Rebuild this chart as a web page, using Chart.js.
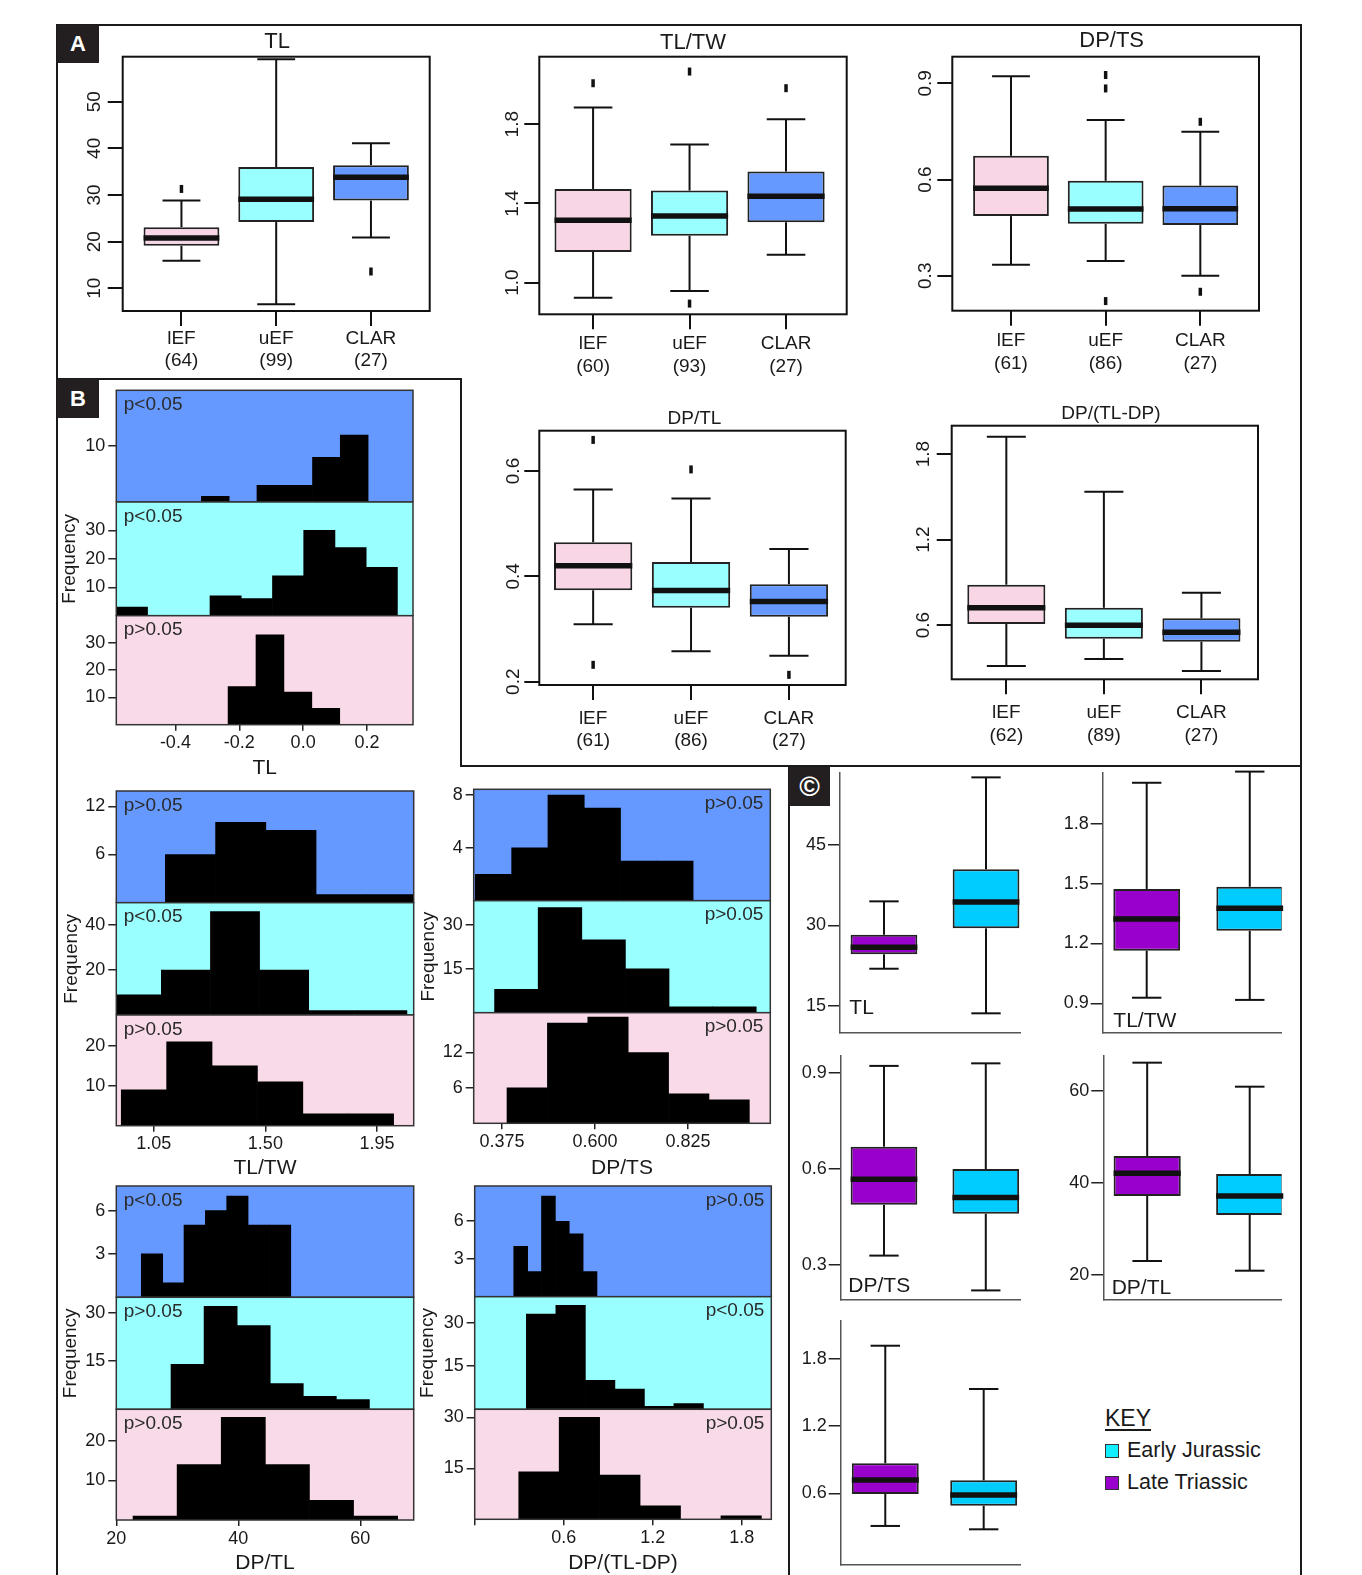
<!DOCTYPE html>
<html>
<head>
<meta charset="utf-8">
<title>Tooth shape boxplots and histograms</title>
<script src="https://cdn.jsdelivr.net/npm/chart.js@4.4.1/dist/chart.umd.min.js"></script>
<style>
  html, body { margin: 0; padding: 0; background: #fff; }
  body { position: relative; width: 1362px; height: 1575px; overflow: hidden;
         font-family: "Liberation Sans", Arial, sans-serif; color: #1a1a1a; }
  canvas { position: absolute; }
  .rule { position: absolute; background: #1a1a1a; }
  .tag { position: absolute; background: #231f20; color: #fff; font-weight: bold;
         font-size: 22px; text-align: center; }
  #key { position: absolute; left: 1105px; top: 1402px; font-size: 21.5px; line-height: 32px; }
  #key .head { font-size: 23px; text-decoration: underline; text-underline-offset: 3px; }
  #key .sw { display: inline-block; width: 12px; height: 12px; border: 1.5px solid #333;
             margin-right: 8px; vertical-align: -1px; }
</style>
</head>
<body>
<div class="rule" style="left:57px;top:24px;width:1245px;height:2px"></div>
<div class="rule" style="left:56px;top:24px;width:2px;height:1551px"></div>
<div class="rule" style="left:1300px;top:24px;width:2px;height:1551px"></div>
<div class="rule" style="left:57px;top:378px;width:405px;height:2px"></div>
<div class="rule" style="left:460px;top:378px;width:2px;height:389px"></div>
<div class="rule" style="left:460px;top:765px;width:842px;height:2px"></div>
<div class="rule" style="left:788px;top:765px;width:2px;height:810px"></div>
<div class="tag" style="left:57px;top:25px;width:42px;height:38px;line-height:38px">A</div>
<div class="tag" style="left:57px;top:379px;width:42px;height:39px;line-height:39px">B</div>
<div class="tag" style="left:789px;top:767px;width:41px;height:39px;line-height:39px;font-size:28px">©</div>
<div id="key"></div>
<script>
// ---------- A: boxplots by formation ----------
const groupsA = ['lEF', 'uEF', 'CLAR'];
const fillsA = ['#F9D6E6', '#99FFFF', '#6699FF'];

const tlN = [64, 99, 27];
const tlQ1 = [19.1, 24.2, 28.8];
const tlMed = [20.8, 29.1, 33.8];
const tlQ3 = [23.1, 36.0, 36.4];
const tlLo = [15.9, 6.6, 20.9];
const tlHi = [28.8, 59.1, 41.1];
const tlOut = [[31.3], [], [13.6]];
const tlTicks = [10, 20, 30, 40, 50];

const twN = [60, 93, 27];
const twQ1 = [1.155, 1.237, 1.305];
const twMed = [1.315, 1.337, 1.436];
const twQ3 = [1.473, 1.465, 1.561];
const twLo = [0.924, 0.958, 1.141];
const twHi = [1.884, 1.697, 1.825];
const twOut = [[2.007], [2.066, 0.894], [1.982]];
const twTicks = [1.0, 1.4, 1.8];
const twTickLabels = ['1.0', '1.4', '1.8'];

const tsN = [61, 86, 27];
const tsQ1 = [0.486, 0.462, 0.458];
const tsMed = [0.573, 0.508, 0.509];
const tsQ3 = [0.674, 0.596, 0.581];
const tsLo = [0.334, 0.346, 0.300];
const tsHi = [0.922, 0.786, 0.749];
const tsOut = [[], [0.926, 0.884, 0.221], [0.780, 0.250]];
const tsTicks = [0.3, 0.6, 0.9];

const dtN = [61, 86, 27];
const dtQ1 = [0.3735, 0.3405, 0.3234];
const dtMed = [0.420, 0.373, 0.352];
const dtQ3 = [0.4647, 0.427, 0.385];
const dtLo = [0.309, 0.258, 0.249];
const dtHi = [0.565, 0.548, 0.452];
const dtOut = [[0.659, 0.232], [0.603], [0.213]];
const dtTicks = [0.2, 0.4, 0.6];

const ddN = [62, 89, 27];
const ddQ1 = [0.607, 0.504, 0.483];
const ddMed = [0.721, 0.598, 0.549];
const ddQ3 = [0.883, 0.721, 0.647];
const ddLo = [0.312, 0.361, 0.277];
const ddHi = [1.921, 1.535, 0.827];
const ddOut = [[], [], []];
const ddTicks = [0.6, 1.2, 1.8];

// ---------- B: histograms (top to bottom: CLAR, uEF, lEF) ----------
const histFills = ['#6699FF', '#99FFFF', '#F9DAE8'];

const tlHistStart = [-0.3186, -0.585, -0.235];
const tlHistWidth = [0.087, 0.0978, 0.0874];
const tlHistClar = [1, 0, 3, 3, 8, 12];
const tlHistUef = [3, 0, 0, 7, 6, 14, 30, 24, 17];
const tlHistLef = [14, 33, 12, 6];
const tlHistP = ['p<0.05', 'p<0.05', 'p>0.05'];
const tlHistYMax = [20, 40, 40];
const tlHistYTicks = [[10], [10, 20, 30], [10, 20, 30]];
const tlHistXTicks = [-0.4, -0.2, 0.0, 0.2];
const tlHistXLabels = ['-0.4', '-0.2', '0.0', '0.2'];

const twHistStart = [1.0968, 0.8826, 0.919];
const twHistWidth = [0.2025, 0.198, 0.183];
const twHistClar = [6, 10, 9, 1, 1];
const twHistUef = [9, 20, 46, 20, 2, 2];
const twHistLef = [9, 21, 15, 11, 3, 3];
const twHistP = ['p>0.05', 'p<0.05', 'p>0.05'];
const twHistYMax = [13.9, 49.9, 27.7];
const twHistYTicks = [[6, 12], [20, 40], [10, 20]];
const twHistXTicks = [1.05, 1.5, 1.95];
const twHistXLabels = ['1.05', '1.50', '1.95'];

const tsHistStart = [0.3105, 0.357, 0.3871];
const tsHistWidth = [0.0878, 0.1055, 0.0977];
const tsHistClar = [2, 4, 8, 7, 3, 3];
const tsHistUef = [8, 36, 25, 15, 2, 2];
const tsHistLef = [6, 17, 18, 12, 5, 4];
const tsHistP = ['p>0.05', 'p>0.05', 'p>0.05'];
const tsHistYMax = [8.43, 38.4, 18.75];
const tsHistYTicks = [[4, 8], [15, 30], [6, 12]];
const tsHistXTicks = [0.375, 0.6, 0.825];
const tsHistXLabels = ['0.375', '0.600', '0.825'];

const dtHistStart = [24.1, 28.97, 22.74];
const dtHistWidth = [3.5, 5.42, 7.23];
const dtHistClar = [3, 1, 5, 6, 7, 5, 5];
const dtHistUef = [14, 32, 26, 8, 4, 3];
const dtHistLef = [1, 14, 26, 14, 5, 1];
const dtHistP = ['p<0.05', 'p>0.05', 'p>0.05'];
const dtHistYMax = [7.7, 34.8, 28];
const dtHistYTicks = [[3, 6], [15, 30], [10, 20]];
const dtHistXTicks = [20, 40, 60];
const dtHistXLabels = ['20', '40', '60'];

const ddHistStart = [0.2635, 0.3483, 0.297];
const ddHistWidth = [0.0935, 0.199, 0.2727];
const ddHistClar = [4, 2, 8, 6, 5, 2];
const ddHistUef = [33, 36, 10, 7, 1, 2];
const ddHistLef = [14, 30, 13, 4, 0, 1];
const ddHistP = ['p>0.05', 'p<0.05', 'p>0.05'];
const ddHistYMax = [8.8, 39, 32.4];
const ddHistYTicks = [[3, 6], [15, 30], [15, 30]];
const ddHistXTicks = [0, 0.6, 1.2, 1.8];
const ddHistXLabels = ['', '0.6', '1.2', '1.8'];

// ---------- C: Late Triassic vs Early Jurassic ----------
const groupsC = ['Late Triassic', 'Early Jurassic'];
const fillsC = ['#9900CC', '#00CCFF'];
const keySwatch = ['#9900CC', '#11EEFF'];

const cTlQ1 = [24.63, 29.48];
const cTlMed = [25.94, 34.38];
const cTlQ3 = [28.28, 40.47];
const cTlLo = [21.95, 13.64];
const cTlHi = [34.5, 57.6];
const cTlTicks = [15, 30, 45];

const cTwQ1 = [1.164, 1.264];
const cTwMed = [1.323, 1.377];
const cTwQ3 = [1.474, 1.485];
const cTwLo = [0.928, 0.917];
const cTwHi = [2.007, 2.063];
const cTwTicks = [0.9, 1.2, 1.5, 1.8];

const cTsQ1 = [0.488, 0.460];
const cTsMed = [0.568, 0.511];
const cTsQ3 = [0.670, 0.600];
const cTsLo = [0.329, 0.220];
const cTsHi = [0.923, 0.931];
const cTsTicks = [0.3, 0.6, 0.9];

const cDtQ1 = [37.17, 33.04];
const cDtMed = [42.1, 37.17];
const cDtQ3 = [45.87, 41.96];
const cDtLo = [23.04, 20.93];
const cDtHi = [66.15, 60.93];
const cDtTicks = [20, 40, 60];

const cDdQ1 = [0.594, 0.489];
const cDdMed = [0.719, 0.585];
const cDdQ3 = [0.868, 0.716];
const cDdLo = [0.308, 0.278];
const cDdHi = [1.919, 1.532];
const cDdTicks = [0.6, 1.2, 1.8];

// ---------- helpers ----------
const INK = '#1a1a1a';
const FONT = '"Liberation Sans", Arial, sans-serif';
Chart.defaults.font.family = FONT;
Chart.defaults.color = INK;

function makeCanvas(box, m) {
  const left = Math.floor(box.l - m.l), top = Math.floor(box.t - m.t);
  const right = Math.ceil(box.r + m.r), bottom = Math.ceil(box.b + m.b);
  const canvas = document.createElement('canvas');
  canvas.width = right - left;
  canvas.height = bottom - top;
  canvas.style.left = left + 'px';
  canvas.style.top = top + 'px';
  document.body.appendChild(canvas);
  return { canvas, ml: box.l - left, mt: box.t - top, mr: right - box.r, mb: bottom - box.b };
}

const axisTicks = values => s => { s.ticks = values.map(v => ({ value: v })); };
const fixWidth = w => s => { s.width = w; s.paddingTop = 0; s.paddingBottom = 0; };
const fixHeight = h => s => { s.height = h; s.paddingLeft = 0; s.paddingRight = 0; };
const fmt = v => String(v);

function drawWhiskers(chart, s) {
  const ctx = chart.ctx, ys = chart.scales.y;
  const seg = (x1, y1, x2, y2) => { ctx.beginPath(); ctx.moveTo(x1, y1); ctx.lineTo(x2, y2); ctx.stroke(); };
  ctx.strokeStyle = '#111';
  ctx.lineCap = 'butt';
  chart.getDatasetMeta(0).data.forEach((bar, i) => {
    const x = bar.x, w = bar.width, cap = w * s.cap / 2;
    const pQ1 = ys.getPixelForValue(s.q1[i]), pQ3 = ys.getPixelForValue(s.q3[i]);
    const pLo = ys.getPixelForValue(s.lo[i]), pHi = ys.getPixelForValue(s.hi[i]);
    ctx.lineWidth = 2;
    seg(x, pQ3, x, pHi);
    seg(x - cap, pHi, x + cap, pHi);
    seg(x, pQ1, x, pLo);
    seg(x - cap, pLo, x + cap, pLo);
    const pMed = ys.getPixelForValue(s.med[i]);
    ctx.lineWidth = 5.5;
    seg(x - w / 2, pMed, x + w / 2, pMed);
    ctx.lineWidth = 3.5;
    (s.out ? s.out[i] : []).forEach(v => {
      const p = ys.getPixelForValue(v);
      seg(x, p - 4, x, p + 4);
    });
  });
}

function decor(spec) {
  return {
    id: 'decor',
    beforeDatasetsDraw(chart) {
      if (!spec.fill) return;
      const a = chart.chartArea, ctx = chart.ctx;
      ctx.save();
      ctx.fillStyle = spec.fill;
      ctx.fillRect(a.left, a.top, a.width, a.height);
      ctx.restore();
    },
    afterDatasetsDraw(chart) {
      const a = chart.chartArea, ctx = chart.ctx;
      ctx.save();
      if (spec.stats) drawWhiskers(chart, spec.stats);
      if (spec.frame) {
        ctx.strokeStyle = spec.frame.color;
        ctx.lineWidth = spec.frame.width;
        ctx.strokeRect(a.left, a.top, a.width, a.height);
      }
      ctx.restore();
    },
    afterDraw(chart) {
      const a = chart.chartArea, ctx = chart.ctx;
      (spec.notes || []).forEach(n => {
        ctx.save();
        ctx.font = n.font;
        ctx.fillStyle = n.color || INK;
        ctx.textAlign = n.align || 'center';
        ctx.textBaseline = 'middle';
        const x = a.left + (n.fx || 0) * a.width + (n.dx || 0);
        const y = (n.fromBottom ? a.bottom : a.top) + (n.dy || 0);
        ctx.fillText(n.text, x, y);
        ctx.restore();
      });
    }
  };
}

const baseOptions = c => ({
  responsive: false,
  animation: false,
  events: [],
  layout: { autoPadding: false, padding: { left: 0, top: c.mt, right: c.mr, bottom: 0 } },
  plugins: { legend: { display: false }, tooltip: { enabled: false } }
});

// panel A box plot: framed, rotated y labels, group names with n below
function boxPanelA(o) {
  const c = makeCanvas(o.box, { l: 45, t: 42, r: 8, b: 72 });
  const labels = groupsA.map((g, i) => [g, '(' + o.n[i] + ')']);
  const slots = groupsA.map((g, i) => i + 1);
  const yLabels = o.yLabels || o.yTicks.map(fmt);
  const opts = baseOptions(c);
  opts.scales = {
    x: {
      type: 'linear', min: o.xMin, max: o.xMax, offset: false,
      afterBuildTicks: axisTicks(slots), afterFit: fixHeight(c.mb),
      grid: { drawOnChartArea: false, tickLength: 15, color: '#111', lineWidth: 2, offset: false },
      border: { display: false },
      ticks: { autoSkip: false, maxRotation: 0, padding: o.xPad, font: { size: 19 },
               callback: (v, i) => labels[i] }
    },
    y: {
      type: 'linear', min: o.yMin, max: o.yMax, beginAtZero: false,
      afterBuildTicks: axisTicks(o.yTicks), afterFit: fixWidth(c.ml),
      grid: { drawOnChartArea: false, tickLength: 15, color: '#111', lineWidth: 2 },
      border: { display: false },
      ticks: { autoSkip: false, minRotation: 90, maxRotation: 90, crossAlign: 'center',
               padding: o.yPad, font: { size: 19 }, callback: (v, i) => yLabels[i] }
    }
  };
  return new Chart(c.canvas, {
    type: 'bar',
    data: { datasets: [{
      data: slots.map((x, i) => ({ x, y: [o.q1[i], o.q3[i]] })),
      backgroundColor: fillsA, borderColor: '#222', borderWidth: 2, borderSkipped: false,
      barPercentage: 0.8, categoryPercentage: 1
    }] },
    options: opts,
    plugins: [decor({
      stats: { q1: o.q1, q3: o.q3, med: o.med, lo: o.lo, hi: o.hi, out: o.out, cap: 0.5 },
      frame: { color: '#111', width: 2 },
      notes: [{ text: o.title, fx: 0.5, dx: o.titleDx || 0, dy: o.titleDy, font: o.titleSize + 'px ' + FONT }]
    })]
  });
}

// panel C box plot: open L axes, two periods
function boxPanelC(o) {
  const c = makeCanvas(o.box, { l: 52, t: 12, r: 10, b: 2 });
  const slots = groupsC.map((g, i) => i + 1);
  const yLabels = o.yLabels || o.yTicks.map(fmt);
  const opts = baseOptions(c);
  opts.scales = {
    x: {
      type: 'linear', min: o.xMin, max: o.xMax, offset: false,
      afterBuildTicks: axisTicks(slots), afterFit: fixHeight(c.mb),
      grid: { display: false, offset: false },
      border: { display: true, color: '#555', width: 1.5 },
      ticks: { display: false }
    },
    y: {
      type: 'linear', min: o.yMin, max: o.yMax, beginAtZero: false,
      afterBuildTicks: axisTicks(o.yTicks), afterFit: fixWidth(c.ml),
      grid: { drawOnChartArea: false, tickLength: 12, color: '#222', lineWidth: 1.5 },
      border: { display: true, color: '#555', width: 1.5 },
      ticks: { autoSkip: false, padding: 2, font: { size: 18 }, callback: (v, i) => yLabels[i] }
    }
  };
  const notes = o.label ? [{ text: o.label, fx: 0, dx: o.labelDx, dy: o.labelDy, fromBottom: true,
                             align: 'left', font: '21px ' + FONT }] : [];
  return new Chart(c.canvas, {
    type: 'bar',
    data: { datasets: [{
      data: slots.map((x, i) => ({ x, y: [o.q1[i], o.q3[i]] })),
      backgroundColor: fillsC, borderColor: '#222', borderWidth: 2, borderSkipped: false,
      barPercentage: o.barPct, categoryPercentage: 1
    }] },
    options: opts,
    plugins: [decor({ stats: { q1: o.q1, q3: o.q3, med: o.med, lo: o.lo, hi: o.hi, cap: 0.44 }, notes })]
  });
}

// panel B histogram strip
function histPanel(o) {
  const showX = !!o.xTitle;
  const c = makeCanvas(o.box, { l: o.ml, t: 12, r: 6, b: showX ? o.mb : 0 });
  const opts = baseOptions(c);
  opts.layout.padding.bottom = showX ? 0 : c.mb;
  opts.scales = {
    x: {
      type: 'linear', display: showX, min: o.xMin, max: o.xMax, offset: false,
      afterBuildTicks: axisTicks(o.xTicks), afterFit: fixHeight(showX ? c.mb : 0),
      grid: { drawOnChartArea: false, tickLength: 6, color: '#222', lineWidth: 1.5, offset: false },
      border: { display: false },
      ticks: { autoSkip: false, maxRotation: 0, padding: 2, font: { size: 18 },
               callback: (v, i) => o.xLabels[i] },
      title: { display: showX, text: o.xTitle || '', font: { size: 21 }, padding: 0 }
    },
    y: {
      type: 'linear', min: 0, max: o.yMax,
      afterBuildTicks: axisTicks(o.yTicks), afterFit: fixWidth(c.ml),
      grid: { drawOnChartArea: false, tickLength: 8, color: '#222', lineWidth: 1.5 },
      border: { display: false },
      ticks: { autoSkip: false, padding: 3, font: { size: 18 }, callback: (v, i) => fmt(o.yTicks[i]) },
      title: { display: !!o.yTitle, text: o.yTitle || '', font: { size: 19 }, padding: 0 }
    }
  };
  const right = o.align === 'right';
  return new Chart(c.canvas, {
    type: 'bar',
    data: { datasets: [{
      data: o.counts.map((n, i) => ({ x: o.start + (i + 0.5) * o.width, y: n })),
      backgroundColor: '#000', borderWidth: 0, barPercentage: 1, categoryPercentage: 1
    }] },
    options: opts,
    plugins: [decor({
      fill: o.fill,
      frame: { color: '#333', width: 1.5 },
      notes: [{ text: o.note, fx: right ? 1 : 0, dx: right ? -7 : 7.5, dy: 14.5,
                align: right ? 'right' : 'left', color: '#2a2a2a', font: '19px ' + FONT }]
    })]
  });
}

function histColumn(o) {
  for (let k = 0; k < 3; k++) {
    histPanel({
      box: { l: o.l, t: o.edges[k], r: o.r, b: o.edges[k + 1] },
      ml: o.ml, mb: o.mb,
      start: o.starts[k], width: o.widths[k], counts: o.counts[k],
      xMin: o.xMin, xMax: o.xMax, xTicks: o.xTicks, xLabels: o.xLabels,
      xTitle: k === 2 ? o.xTitle : null, yTitle: k === 1 ? 'Frequency' : null,
      yMax: o.yMax[k], yTicks: o.yTicks[k], fill: histFills[k], note: o.notes[k], align: o.align
    });
  }
}

// ---------- build panel A ----------
boxPanelA({ box: { l: 122.7, t: 56.7, r: 429.7, b: 311 }, n: tlN, xMin: 0.38, xMax: 3.62,
  q1: tlQ1, med: tlMed, q3: tlQ3, lo: tlLo, hi: tlHi, out: tlOut,
  yMin: 5.13, yMax: 59.65, yTicks: tlTicks, yPad: 2.6, xPad: 1,
  title: 'TL', titleSize: 22, titleDx: 1, titleDy: -14.7 });
boxPanelA({ box: { l: 539.3, t: 56.7, r: 846.7, b: 314.3 }, n: twN, xMin: 0.4425, xMax: 3.629,
  q1: twQ1, med: twMed, q3: twQ3, lo: twLo, hi: twHi, out: twOut,
  yMin: 0.84, yMax: 2.141, yTicks: twTicks, yLabels: twTickLabels, yPad: -1.4, xPad: 3,
  title: 'TL/TW', titleSize: 22, titleDy: -13.7 });
boxPanelA({ box: { l: 952.3, t: 56.7, r: 1259, b: 310.7 }, n: tsN, xMin: 0.38, xMax: 3.62,
  q1: tsQ1, med: tsMed, q3: tsQ3, lo: tsLo, hi: tsHi, out: tsOut,
  yMin: 0.191, yMax: 0.983, yTicks: tsTicks, yPad: -1.6, xPad: 4,
  title: 'DP/TS', titleSize: 22, titleDx: 6, titleDy: -15.9 });
boxPanelA({ box: { l: 539.3, t: 430.7, r: 845.7, b: 685 }, n: dtN, xMin: 0.45, xMax: 3.58,
  q1: dtQ1, med: dtMed, q3: dtQ3, lo: dtLo, hi: dtHi, out: dtOut,
  yMin: 0.1937, yMax: 0.6765, yTicks: dtTicks, yPad: -2.5, xPad: 7,
  title: 'DP/TL', titleSize: 19, titleDx: 2, titleDy: -12.4 });
boxPanelA({ box: { l: 951.7, t: 425.7, r: 1258, b: 679.3 }, n: ddN, xMin: 0.44, xMax: 3.58,
  q1: ddQ1, med: ddMed, q3: ddQ3, lo: ddLo, hi: ddHi, out: ddOut,
  yMin: 0.219, yMax: 1.999, yTicks: ddTicks, yPad: 0.2, xPad: 7,
  title: 'DP/(TL-DP)', titleSize: 19, titleDx: 6, titleDy: -12.4 });

// ---------- build panel B ----------
histColumn({ l: 116.3, r: 413, edges: [390.3, 502, 615.7, 724.7], ml: 57.4, mb: 55.9,
  starts: tlHistStart, widths: tlHistWidth, counts: [tlHistClar, tlHistUef, tlHistLef],
  xMin: -0.585, xMax: 0.344, xTicks: tlHistXTicks, xLabels: tlHistXLabels, xTitle: 'TL',
  yMax: tlHistYMax, yTicks: tlHistYTicks, notes: tlHistP, align: 'left' });
histColumn({ l: 116.3, r: 413.7, edges: [791, 902.7, 1015, 1125.7], ml: 55.7, mb: 55.2,
  starts: twHistStart, widths: twHistWidth, counts: [twHistClar, twHistUef, twHistLef],
  xMin: 0.899, xMax: 2.098, xTicks: twHistXTicks, xLabels: twHistXLabels, xTitle: 'TL/TW',
  yMax: twHistYMax, yTicks: twHistYTicks, notes: twHistP, align: 'left' });
histColumn({ l: 473.7, r: 770.3, edges: [789.3, 900.7, 1012.7, 1123.3], ml: 56.1, mb: 57.3,
  starts: tsHistStart, widths: tsHistWidth, counts: [tsHistClar, tsHistUef, tsHistLef],
  xMin: 0.3065, xMax: 1.024, xTicks: tsHistXTicks, xLabels: tsHistXLabels, xTitle: 'DP/TS',
  yMax: tsHistYMax, yTicks: tsHistYTicks, notes: tsHistP, align: 'right' });
histColumn({ l: 116.3, r: 413.7, edges: [1186, 1297.3, 1409.3, 1520], ml: 56.5, mb: 55.9,
  starts: dtHistStart, widths: dtHistWidth, counts: [dtHistClar, dtHistUef, dtHistLef],
  xMin: 20, xMax: 68.75, xTicks: dtHistXTicks, xLabels: dtHistXLabels, xTitle: 'DP/TL',
  yMax: dtHistYMax, yTicks: dtHistYTicks, notes: dtHistP, align: 'left' });
histColumn({ l: 474.7, r: 771.3, edges: [1186, 1296.7, 1409.3, 1519.3], ml: 58.3, mb: 56.6,
  starts: ddHistStart, widths: ddHistWidth, counts: [ddHistClar, ddHistUef, ddHistLef],
  xMin: 0, xMax: 2.0, xTicks: ddHistXTicks, xLabels: ddHistXLabels, xTitle: 'DP/(TL-DP)',
  yMax: ddHistYMax, yTicks: ddHistYTicks, notes: ddHistP, align: 'right' });

// ---------- build panel C ----------
boxPanelC({ box: { l: 840, t: 772.7, r: 1020, b: 1032.7 }, xMin: 0.569, xMax: 2.333, barPct: 0.654,
  q1: cTlQ1, med: cTlMed, q3: cTlQ3, lo: cTlLo, hi: cTlHi,
  yMin: 10.03, yMax: 58.47, yTicks: cTlTicks, label: 'TL', labelDx: 9.3, labelDy: -24.4 });
boxPanelC({ box: { l: 1102.7, t: 772.7, r: 1281.7, b: 1032.7 }, xMin: 0.573, xMax: 2.31, barPct: 0.648,
  q1: cTwQ1, med: cTwMed, q3: cTwQ3, lo: cTwLo, hi: cTwHi,
  yMin: 0.7524, yMax: 2.0575, yTicks: cTwTicks, label: 'TL/TW', labelDx: 10.6, labelDy: -11 });
boxPanelC({ box: { l: 840.7, t: 1056, r: 1020, b: 1300 }, xMin: 0.575, xMax: 2.336, barPct: 0.655,
  q1: cTsQ1, med: cTsMed, q3: cTsQ3, lo: cTsLo, hi: cTsHi,
  yMin: 0.19, yMax: 0.954, yTicks: cTsTicks, label: 'DP/TS', labelDx: 7.6, labelDy: -13.3 });
boxPanelC({ box: { l: 1103.3, t: 1056, r: 1281.7, b: 1300 }, xMin: 0.572, xMax: 2.312, barPct: 0.655,
  q1: cDtQ1, med: cDtMed, q3: cDtQ3, lo: cDtLo, hi: cDtHi,
  yMin: 14.56, yMax: 67.6, yTicks: cDtTicks, label: 'DP/TL', labelDx: 8.4, labelDy: -12.2 });
boxPanelC({ box: { l: 840.7, t: 1321, r: 1020, b: 1565 }, xMin: 0.547, xMax: 2.369, barPct: 0.68,
  q1: cDdQ1, med: cDdMed, q3: cDdQ3, lo: cDdLo, hi: cDdHi,
  yMin: -0.041, yMax: 2.14, yTicks: cDdTicks, label: null });

// key: listed Early Jurassic first, as in the figure
const key = document.getElementById('key');
key.innerHTML = '<div class="head">KEY</div>' + [1, 0].map(i =>
  '<div><span class="sw" style="background:' + keySwatch[i] + '"></span>' + groupsC[i] + '</div>').join('');
</script>
</body>
</html>
